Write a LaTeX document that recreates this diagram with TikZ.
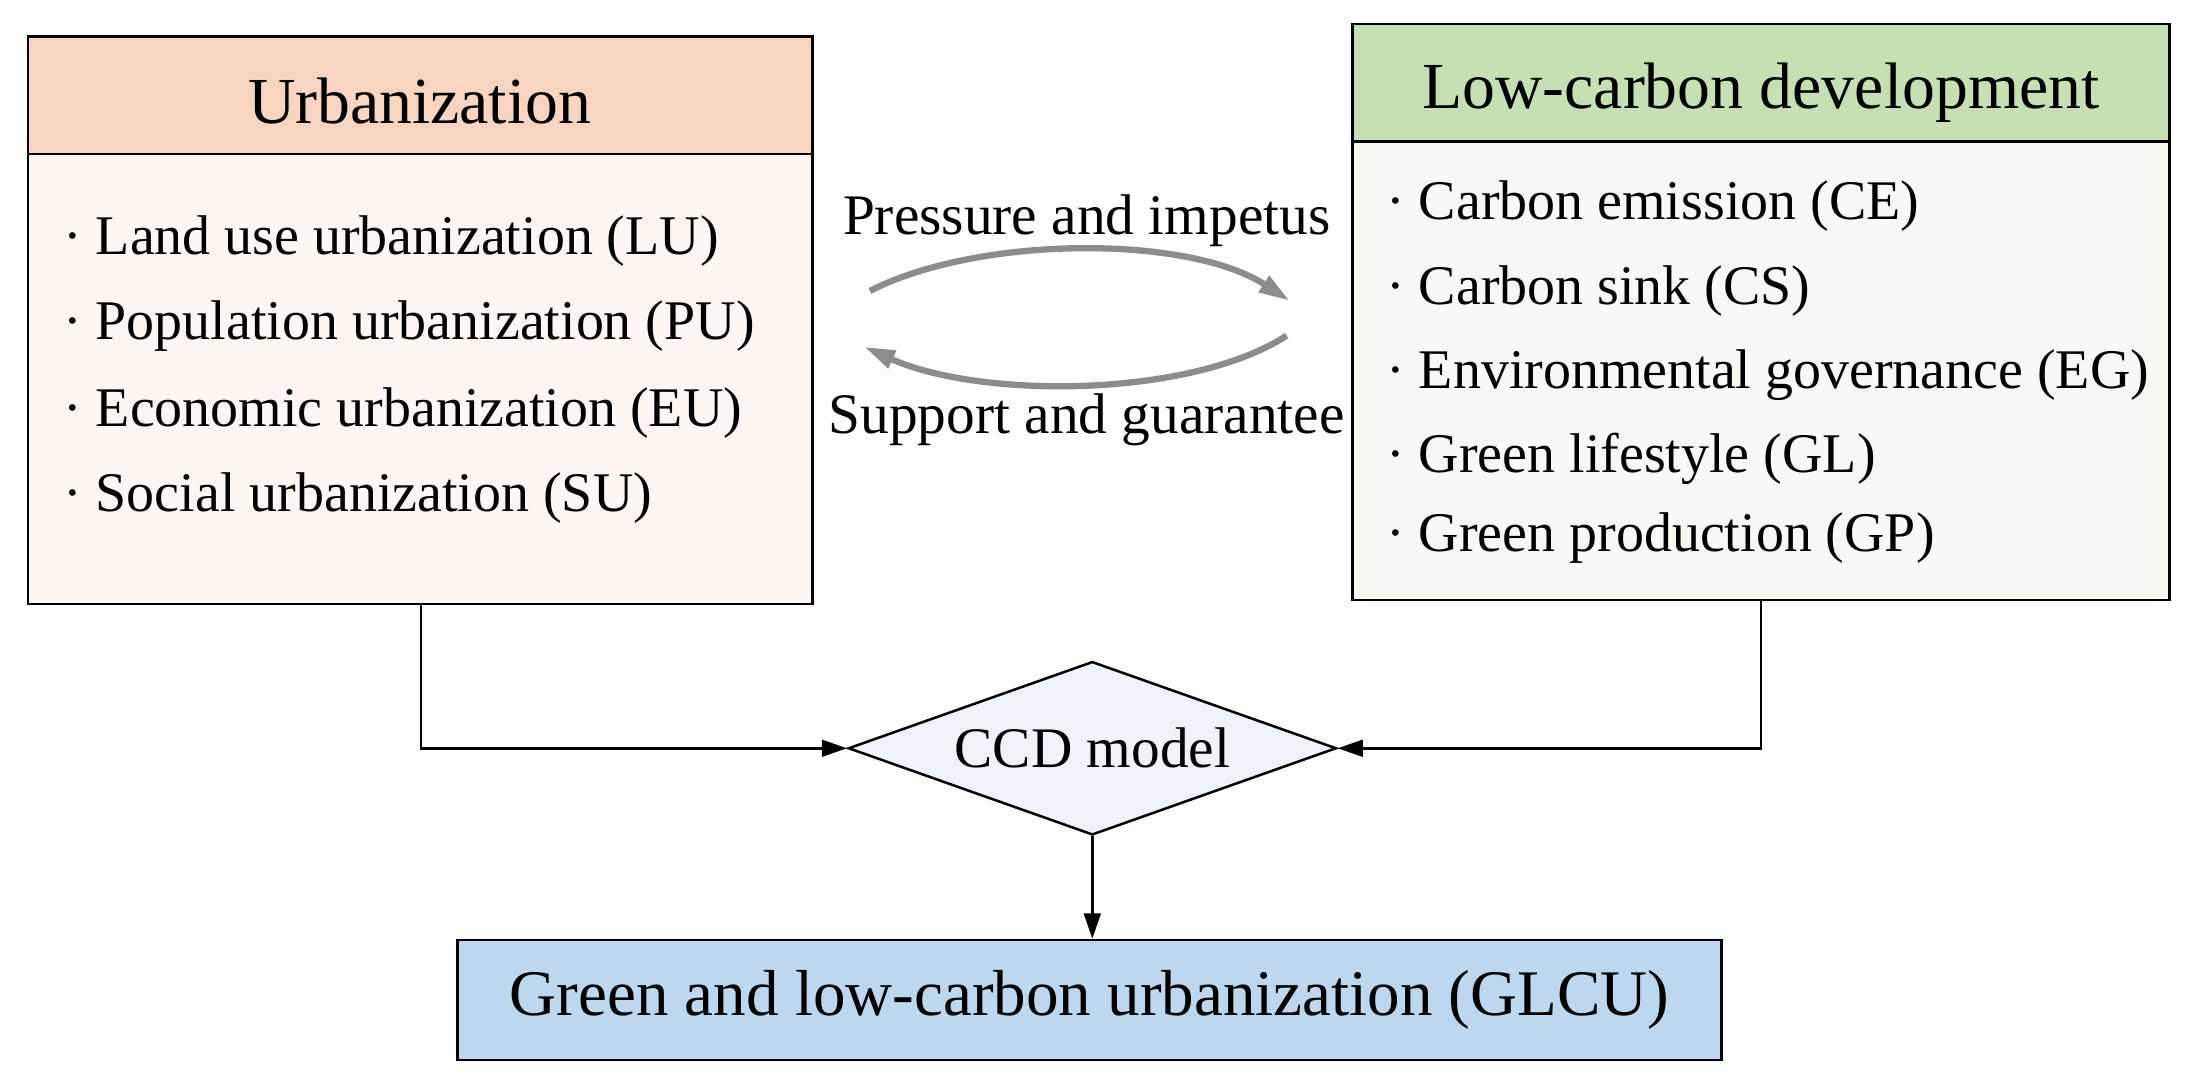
\documentclass[tikz,border=0pt]{standalone}
\usepackage{fontspec}
\setmainfont{Liberation Serif}
\usetikzlibrary{shapes.geometric,arrows.meta}
\definecolor{hpeach}{HTML}{F8D5C0}
\definecolor{bpeach}{HTML}{FEF6F0}
\definecolor{hgreen}{HTML}{C6E0B4}
\definecolor{bgreen}{HTML}{F6FAF3}
\definecolor{dfill}{HTML}{EEF3FA}
\definecolor{gfill}{HTML}{BDD7EE}
\definecolor{arcg}{HTML}{8C8C8C}
\begin{document}
\begin{tikzpicture}[x=1pt,y=-1pt,
  box/.style={draw,line width=1.8pt},
  item/.style={anchor=west,font=\fontsize{40}{46}\selectfont,inner sep=0},
  lbl/.style={font=\fontsize{41}{46}\selectfont,inner sep=0},
  conn/.style={line width=1.8pt,-{Triangle[length=18pt,width=12pt]}},
  arc/.style={line width=4.5pt,arcg,-{Triangle[length=22pt,width=13pt]}}]
\useasboundingbox (0,0) rectangle (1568,780);
% left box
\draw[box,fill=hpeach] (20,26) rectangle (581,110);
\draw[box,fill=bpeach] (20,110) rectangle (581,432);
\node[font=\fontsize{47}{52}\selectfont] (lh) at (300,72) {Urbanization};
\node[item] (l1) at (45,172) {· Land use urbanization (LU)};
\node[item] (l2) at (45,233) {· Population urbanization (PU)};
\node[item] (l3) at (45,295) {· Economic urbanization (EU)};
\node[item] (l4) at (45,356) {· Social urbanization (SU)};
% right box
\draw[box,fill=hgreen] (967,17) rectangle (1551,101);
\draw[box,fill=bgreen] (967,101) rectangle (1551,429);
\node[font=\fontsize{47}{52}\selectfont] (rh) at (1259,66) {Low-carbon development};
\node[item] (r1) at (991,147) {· Carbon emission (CE)};
\node[item] (r2) at (991,208) {· Carbon sink (CS)};
\node[item] (r3) at (991,268) {· Environmental governance (EG)};
\node[item] (r4) at (991,328) {· Green lifestyle (GL)};
\node[item] (r5) at (991,385) {· Green production (GP)};
% labels and arcs
\node[lbl] (p) at (777,158) {Pressure and impetus};
\node[lbl] (s) at (777,300) {Support and guarantee};
\coordinate (a1) at (622,208);
\coordinate (a2) at (922,215);
\coordinate (b1) at (920,240);
\coordinate (b2) at (618,248);
\draw[arc] (a1) .. controls (700,168) and (850,168) .. (a2);
\draw[arc] (b1) .. controls (850,285) and (700,285) .. (b2);
% diamond
\node[draw,line width=1.8pt,fill=dfill,diamond,aspect=2.8,minimum width=349pt,minimum height=124pt,inner sep=0,font=\fontsize{41}{46}\selectfont] (d) at (781,535) {CCD model};
% bottom box
\node[box,fill=gfill,minimum width=904pt,minimum height=86pt,font=\fontsize{46.5}{52}\selectfont] (g) at (779,715) {Green and low-carbon urbanization (GLCU)};
% connectors
\coordinate (lb) at (301,432);
\coordinate (rb) at (1259,429);
\draw[conn] (lb) |- (d.west);
\draw[conn] (rb) |- (d.east);
\draw[conn] (d.south) -- (d.south |- g.north);
\end{tikzpicture}
\end{document}
